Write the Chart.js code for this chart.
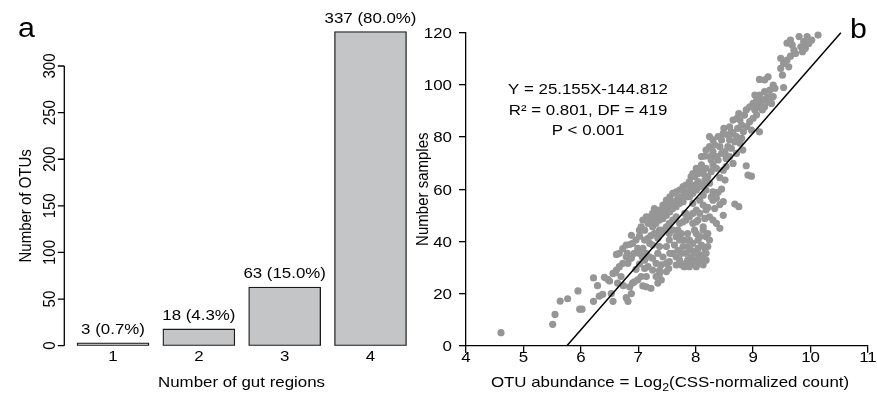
<!DOCTYPE html>
<html>
<head>
<meta charset="utf-8">
<script src="https://cdn.jsdelivr.net/npm/chart.js@4.4.1/dist/chart.umd.min.js"></script>
<style>
  body { margin: 0; background: #fff; }
  #wrap { position: relative; width: 877px; height: 395px; overflow: hidden; }
  canvas { position: absolute; top: 0; }
  #barChart { left: 0; }
  #scatterChart { left: 405px; }
</style>
</head>
<body>
<div id="wrap">
  <canvas id="barChart" width="420" height="395"></canvas>
  <canvas id="scatterChart" width="472" height="395"></canvas>
</div>
<script>
// Panel a: OTUs by number of gut regions
const regions = [1, 2, 3, 4];
const otuCounts = [3, 18, 63, 337];
const otuPercents = ['0.7', '4.3', '15.0', '80.0'];
const countTicks = [0, 50, 100, 150, 200, 250, 300];

// Panel b: abundance vs number of samples
const abundance = [
    4.61, 5.51, 5.55, 5.64, 5.77, 5.95, 5.98, 6.02, 6.22, 6.22, 6.29, 6.32, 6.38, 6.41, 6.47, 6.50,
    6.53, 6.56, 6.60, 6.62, 6.67, 6.64, 6.70, 6.73, 6.74, 6.79, 6.82, 6.88, 6.85, 6.90, 6.93, 6.99,
    6.96, 6.88, 6.85, 6.81, 6.79, 7.02, 7.02, 7.04, 7.08, 7.14, 7.22, 7.34, 7.40, 7.37, 7.49, 7.53,
    7.54, 7.40, 7.31, 7.25, 7.20, 7.14, 7.20, 7.17, 7.11, 7.25, 7.34, 7.37, 7.49, 7.54, 7.63, 7.66,
    7.72, 7.78, 7.83, 7.86, 7.80, 7.95, 8.01, 8.07, 8.13, 7.92, 7.98, 8.04, 8.10, 8.18, 8.21, 8.24,
    8.21, 8.18, 8.13, 7.95, 7.89, 7.86, 7.98, 7.95, 8.01, 8.13, 8.16, 8.24, 8.30, 8.36, 8.42, 8.48,
    8.33, 8.30, 8.21, 8.45, 8.39, 8.33, 8.27, 8.68, 8.75,
    7.05, 7.11, 7.17, 7.22, 7.25, 7.28, 7.31, 7.34, 7.37, 7.40, 7.43, 7.46, 7.49, 7.52, 7.55, 7.57,
    7.60, 7.63, 7.66, 7.69, 7.72, 7.75, 7.78, 7.81, 7.83, 7.86, 7.89, 7.92, 7.95, 7.98, 8.01, 8.04,
    8.07, 7.98, 8.04, 8.13, 8.10, 8.18, 8.16, 8.21, 8.27, 8.25, 8.16, 8.30, 8.36, 8.39, 8.42, 8.45,
    8.51, 8.53, 8.56, 8.59, 8.62, 8.65, 8.49, 8.68, 8.71, 8.72, 8.75, 8.73, 8.77, 8.80, 8.83, 8.82,
    8.71, 8.65, 8.88, 8.91, 8.97, 8.89, 8.94, 8.97, 9.00, 9.03, 9.06, 9.09, 9.11, 9.12, 9.16, 9.17,
    9.20, 9.23, 9.26, 9.29, 9.03, 9.11, 9.26, 9.20, 9.35, 9.38, 9.53, 9.48, 9.48, 9.51, 9.53, 9.59,
    9.62, 9.65, 9.68, 9.65, 9.71, 9.74, 9.80, 9.83, 9.86, 9.88, 9.91, 9.94, 9.97, 10.02, 10.13, 9.59,
    8.10, 8.18, 8.24, 8.30, 8.36, 8.33, 8.27, 7.95, 8.01, 8.07, 8.13, 8.18, 8.24, 8.30, 8.36, 8.42,
    8.48, 8.51, 8.53, 8.59, 8.42, 8.48,
    7.83, 7.89, 7.95, 8.01, 8.07, 8.13, 8.18, 8.07, 8.13, 8.04, 7.81, 7.95,
    7.60, 7.66, 7.69, 7.75, 7.72, 7.66, 7.75, 7.89, 7.83, 8.01, 8.07, 8.13, 8.18, 8.16, 8.10, 8.04,
    8.01, 8.07, 7.80, 7.86, 7.92, 8.01, 7.55, 7.43, 7.49, 7.37, 7.31, 7.25, 7.17, 7.11, 7.05, 7.14,
    7.40, 7.34, 7.28, 7.22, 7.54, 7.60, 7.69, 7.75, 7.72, 7.78, 7.83, 7.60, 7.66, 7.54, 7.49, 7.43,
    7.37, 7.31,
    6.90, 6.96, 6.99, 6.93, 6.88, 6.82, 6.73, 6.67, 6.62, 6.56, 7.02, 7.08, 7.07, 7.11, 6.79,
    7.37, 7.43, 7.49, 7.55, 7.60, 7.66, 7.72, 7.78, 7.83, 7.89, 7.92, 7.28, 7.25, 7.20, 7.14, 7.08,
    7.02,
    8.62, 8.56, 8.59, 8.65, 8.77, 8.80, 8.85, 8.88, 8.94, 9.00, 9.06, 9.09, 9.06, 9.11, 9.20, 9.29,
    9.35, 9.32, 8.45, 8.48, 8.39, 8.30, 8.24
];
const samples = [
    5.0, 8.2, 12.0, 17.1, 18.0, 21.0, 14.0, 14.0, 26.0, 17.0, 23.0, 19.0, 19.7, 26.2, 25.4, 24.8,
    20.0, 17.0, 28.0, 35.0, 35.4, 24.0, 26.5, 37.2, 23.0, 18.4, 17.0, 20.0, 22.6, 24.0, 24.5, 25.2,
    29.3, 42.3, 38.8, 35.4, 38.6, 31.3, 42.0, 44.3, 22.9, 22.6, 22.0, 24.0, 25.2, 27.7, 28.4, 29.6,
    32.2, 31.0, 31.6, 33.5, 34.0, 35.4, 39.2, 41.2, 40.5, 38.6, 35.4, 38.0, 38.0, 40.5, 38.6, 41.8,
    40.5, 38.0, 35.4, 32.8, 30.3, 31.6, 32.8, 31.6, 31.0, 34.0, 36.0, 37.3, 34.8, 35.4, 38.0, 40.5,
    43.0, 41.8, 44.3, 39.2, 40.5, 43.0, 44.3, 46.9, 47.5, 45.6, 48.8, 49.4, 48.2, 46.9, 45.0, 50.0,
    52.6, 55.8, 53.0, 60.0, 58.8, 58.4, 57.0, 54.3, 53.3,
    45.6, 44.3, 46.9, 47.5, 45.6, 48.8, 46.9, 50.0, 48.2, 50.7, 48.8, 52.0, 50.0, 53.3, 51.4, 54.6,
    52.6, 55.2, 53.3, 56.5, 54.6, 57.1, 55.2, 58.4, 57.1, 59.0, 57.1, 60.3, 58.4, 61.6, 59.7, 62.9,
    60.9, 64.8, 66.0, 66.0, 69.3, 68.0, 63.5, 64.8, 66.7, 72.5, 72.7, 69.3, 68.0, 71.2, 76.3, 73.7,
    74.4, 71.8, 76.3, 78.9, 75.7, 81.4, 83.3, 78.2, 80.2, 87.2, 89.0, 83.3, 77.6, 79.5, 82.0, 75.0,
    73.7, 69.9, 69.0, 65.4, 65.0, 84.0, 85.9, 82.7, 87.2, 90.4, 88.5, 91.6, 82.0, 92.9, 90.4, 94.2,
    91.6, 94.8, 93.5, 95.5, 96.1, 102.1, 103.1, 97.4, 99.9, 98.7, 99.0, 106.3, 110.2, 103.7, 108.2, 109.5,
    106.9, 111.0, 115.3, 117.2, 113.3, 112.0, 118.5, 114.6, 112.7, 116.6, 114.0, 118.5, 115.9, 117.2, 119.1, 116.0,
    72.5, 75.0, 76.3, 74.4, 72.5, 77.0, 71.2, 66.0, 68.0, 67.3, 61.6, 59.7, 62.3, 59.0, 56.5, 64.4,
    67.3, 63.5, 68.7, 72.5, 54.1, 55.2,
    50.7, 49.4, 50.7, 52.0, 50.7, 53.9, 52.0, 55.8, 57.7, 48.2, 50.7, 54.6,
    35.4, 34.0, 36.6, 35.4, 32.8, 30.9, 30.9, 30.3, 31.6, 30.3, 34.1, 33.5, 32.8, 37.3, 38.6, 40.5,
    43.0, 41.8, 40.5, 38.0, 36.6, 35.4, 35.4, 34.0, 31.6, 28.9, 26.5, 29.0, 30.3, 29.6, 26.5, 26.5,
    43.0, 41.2, 43.0, 42.2, 43.0, 44.3, 44.3, 43.0, 46.9, 47.5, 48.2, 48.2, 49.4, 46.9, 45.6, 44.3,
    44.3, 43.0,
    39.2, 40.5, 37.3, 35.4, 33.5, 31.6, 31.6, 30.3, 29.0, 27.7, 35.4, 37.3, 34.0, 32.8, 34.1,
    52.0, 53.9, 55.8, 57.1, 58.4, 59.0, 59.7, 61.0, 61.6, 62.9, 64.8, 52.6, 50.7, 49.4, 49.4, 48.2,
    44.3,
    82.0, 80.8, 83.9, 86.5, 86.5, 84.6, 88.4, 90.4, 91.6, 92.9, 94.2, 95.5, 92.3, 96.1, 101.9, 98.0,
    95.5, 92.9, 78.9, 81.4, 80.2, 78.9, 80.2
];
const abundanceTicks = [4, 5, 6, 7, 8, 9, 10, 11];
const sampleTicks = [0, 20, 40, 60, 80, 100, 120];

// fitted line Y = 25.155X - 144.812, end points
const fitX = [5.757, 10.527];
const fitY = [0, 120];
const fitText = ['Y = 25.155X-144.812', 'R\u00b2 = 0.801, DF = 419', 'P < 0.001'];

const FONT = '"Liberation Sans", Arial, Helvetica, sans-serif';
const SX = 1.125; // the reference type is a little wide

function txt(ctx, s, x, y, size, align, rotate) {
    ctx.save();
    ctx.translate(x, y);
    ctx.scale(SX, 1);
    if (rotate) ctx.rotate(-Math.PI / 2);
    ctx.font = size + 'px ' + FONT;
    ctx.fillStyle = '#000';
    ctx.textAlign = align || 'center';
    ctx.textBaseline = 'alphabetic';
    ctx.fillText(s, 0, 0);
    ctx.restore();
}

// ---------- panel a ----------
const barDecor = {
    id: 'barDecor',
    afterDraw(chart) {
        const ctx = chart.ctx;
        const xs = chart.scales.x, ys = chart.scales.y;
        const ax = chart.chartArea.left + 0.3;

        ctx.save();
        ctx.strokeStyle = '#000';
        ctx.lineWidth = 1.3;
        ctx.beginPath();
        ctx.moveTo(ax, ys.getPixelForValue(0));
        ctx.lineTo(ax, ys.getPixelForValue(300));
        countTicks.forEach(t => {
            const py = ys.getPixelForValue(t);
            ctx.moveTo(ax - 6.5, py);
            ctx.lineTo(ax, py);
        });
        ctx.stroke();
        ctx.restore();

        countTicks.forEach(t => txt(ctx, String(t), 55, ys.getPixelForValue(t), 15, 'center', true));
        txt(ctx, 'Number of OTUs', 31, (ys.getPixelForValue(0) + ys.getPixelForValue(300)) / 2, 15, 'center', true);

        regions.forEach(r => txt(ctx, String(r), xs.getPixelForValue(r), 361, 15));
        txt(ctx, 'Number of gut regions', (chart.chartArea.left + chart.chartArea.right) / 2, 386.7, 15);

        chart.getDatasetMeta(0).data.forEach((bar, i) => {
            txt(ctx, otuCounts[i] + ' (' + otuPercents[i] + '%)', bar.x, bar.y - 8.5, 15);
        });

        txt(ctx, 'a', 18, 37.3, 27, 'left');
    }
};

new Chart(document.getElementById('barChart'), {
    type: 'bar',
    data: {
        datasets: [{
            data: regions.map((r, i) => ({ x: r, y: otuCounts[i] })),
            backgroundColor: '#c4c5c7',
            borderColor: '#1a1a1a',
            borderWidth: 1.3,
            borderSkipped: false,
            barThickness: 72
        }]
    },
    options: {
        responsive: false,
        animation: false,
        layout: { padding: { left: 64, right: 1, top: 19.4, bottom: 49.3 } },
        plugins: { legend: { display: false }, tooltip: { enabled: false } },
        scales: {
            x: { type: 'linear', min: 0.429, max: 4.565, offset: false, display: false },
            y: { min: 0, max: 350, display: false }
        }
    },
    plugins: [barDecor]
});

// ---------- panel b ----------
const scatterDecor = {
    id: 'scatterDecor',
    afterDraw(chart) {
        const ctx = chart.ctx;
        const xs = chart.scales.x, ys = chart.scales.y;
        const area = chart.chartArea;

        sampleTicks.forEach(t => txt(ctx, String(t), area.left - 14, ys.getPixelForValue(t) + 5.4, 15, 'right'));
        abundanceTicks.forEach(t => txt(ctx, String(t), xs.getPixelForValue(t), 361.7, 15));

        txt(ctx, 'Number samples', 22.5, (area.top + area.bottom) / 2, 15, 'center', true);

        // x title with subscript
        const a = 'OTU abundance = Log', sub = '2', b = '(CSS-normalized count)';
        ctx.save();
        ctx.font = '15px ' + FONT;
        const wa = ctx.measureText(a).width, wb = ctx.measureText(b).width;
        ctx.font = '11px ' + FONT;
        const ws = ctx.measureText(sub).width;
        ctx.restore();
        const total = (wa + ws + wb) * SX;
        let x0 = (area.left + area.right) / 2 + 3 - total / 2;
        txt(ctx, a, x0, 386.7, 15, 'left');
        txt(ctx, sub, x0 + wa * SX, 390.5, 11, 'left');
        txt(ctx, b, x0 + (wa + ws) * SX, 386.7, 15, 'left');

        const cx = area.left + 122;
        txt(ctx, fitText[0], cx, 93.5, 15);
        txt(ctx, fitText[1], cx, 115, 15);
        txt(ctx, fitText[2], cx, 135, 15);

        txt(ctx, 'b', 445, 37.7, 27, 'left');
    }
};

const axisBits = {
    grid: { drawOnChartArea: false, drawTicks: true, tickLength: 7, color: '#000', lineWidth: 1.3 },
    border: { color: '#000', width: 1.3 }
};

new Chart(document.getElementById('scatterChart'), {
    type: 'scatter',
    data: {
        datasets: [
            {
                type: 'line',
                data: fitX.map((x, i) => ({ x: x, y: fitY[i] })),
                borderColor: '#000',
                borderWidth: 1.5,
                pointRadius: 0,
                order: 0,
                clip: false
            },
            {
                data: abundance.map((x, i) => ({ x: x, y: samples[i] })),
                backgroundColor: '#969696',
                borderWidth: 0,
                pointRadius: 3.6,
                order: 1,
                clip: false
            }
        ]
    },
    options: {
        responsive: false,
        animation: false,
        layout: { padding: { left: 0, right: 9, top: 32.7, bottom: 0 } },
        plugins: { legend: { display: false }, tooltip: { enabled: false } },
        scales: {
            x: {
                type: 'linear', min: 4, max: 11,
                ticks: { stepSize: 1, display: false },
                ...axisBits,
                afterFit: s => { s.height = 49.3; }
            },
            y: {
                min: 0, max: 120,
                ticks: { stepSize: 20, display: false },
                ...axisBits,
                afterFit: s => { s.width = 61; }
            }
        }
    },
    plugins: [scatterDecor]
});
</script>
</body>
</html>
